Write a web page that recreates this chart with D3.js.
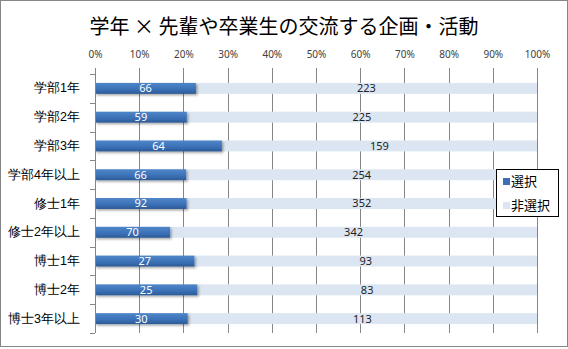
<!DOCTYPE html>
<html><head><meta charset="utf-8">
<script src="https://cdn.jsdelivr.net/npm/d3@7"></script>
<style>
html,body{margin:0;padding:0;background:#fff;}
svg{display:block;font-family:"Noto Sans CJK JP","Noto Sans",sans-serif;}
</style></head>
<body>
<svg id="chart" width="568" height="349"></svg>
<script>
const title = "学年 × 先輩や卒業生の交流する企画・活動";
const categories = ["学部1年","学部2年","学部3年","学部4年以上","修士1年","修士2年以上","博士1年","博士2年","博士3年以上"];
const selected = [66,59,64,66,92,70,27,25,30];
const notSelected = [223,225,159,254,352,342,93,83,113];
const seriesNames = ["選択","非選択"];
const tickValues = [0,0.1,0.2,0.3,0.4,0.5,0.6,0.7,0.8,0.9,1];

const svg = d3.select("#chart");
const W = 568, H = 349;
const m = {left:95, right:31, top:74, bottom:16};

// border
svg.append("rect").attr("x",0.5).attr("y",0.5).attr("width",W-1).attr("height",H-3)
  .attr("fill","#fff").attr("stroke","#868686").attr("stroke-width",1);

const defs = svg.append("defs");
const grad = defs.append("linearGradient").attr("id","blueGrad").attr("x1",0).attr("y1",0).attr("x2",0).attr("y2",1);
grad.append("stop").attr("offset","0%").attr("stop-color","#4f86c9");
grad.append("stop").attr("offset","60%").attr("stop-color","#3b70b6");
grad.append("stop").attr("offset","100%").attr("stop-color","#2c5a96");
const f = defs.append("filter").attr("id","shadow").attr("x","-10%").attr("y","-30%").attr("width","130%").attr("height","190%");
f.append("feDropShadow").attr("dx",1.5).attr("dy",1.5).attr("stdDeviation",1).attr("flood-color","#000").attr("flood-opacity",0.35);

const data = categories.map((c,i)=>({cat:c, "選択":selected[i], "非選択":notSelected[i]}));
const stack = d3.stack().keys(seriesNames).offset(d3.stackOffsetExpand);
const series = stack(data);

const x = d3.scaleLinear().domain([0,1]).range([m.left, W - m.right]);
const y = d3.scaleBand().domain(categories).range([m.top, H - m.bottom - 0]).paddingInner(0.62).paddingOuter(0.31);
const yb = d3.scaleBand().domain(categories).range([m.top, H - m.bottom]);

// title
svg.append("text").attr("x",284).attr("y",34).attr("text-anchor","middle")
  .attr("font-size",20).attr("fill","#000").text(title);

// vertical gridlines (with outward top ticks)
svg.append("g").selectAll("line").data(tickValues).join("line")
  .attr("x1",d=>Math.round(x(d))+0.5).attr("x2",d=>Math.round(x(d))+0.5)
  .attr("y1",m.top-6).attr("y2",H-m.bottom)
  .attr("stroke","#868686").attr("stroke-width",1);

// top axis labels
const xAxis = d3.axisTop(x).tickValues(tickValues).tickFormat(d3.format(".0%")).tickSize(0).tickPadding(0);
const gx = svg.append("g").attr("transform",`translate(0,${m.top-16})`).call(xAxis);
gx.select(".domain").remove();
gx.selectAll("text").attr("font-size",10).attr("fill","#404040").attr("font-family","\"Noto Sans\",sans-serif");

// bars
const colors = {"選択":"url(#blueGrad)","非選択":"#dce6f2"};
const order = [1,0];
order.forEach(si=>{
  const s = series[si];
  svg.append("g").selectAll("rect").data(s).join("rect")
    .attr("x",d=>x(d[0])).attr("width",d=>x(d[1])-x(d[0]))
    .attr("y",d=>y(d.data.cat)).attr("height",y.bandwidth())
    .attr("fill",colors[s.key])
    .attr("filter", s.key==="選択" ? "url(#shadow)" : null);
});

// data labels
series.forEach(s=>{
  svg.append("g").selectAll("text").data(s).join("text")
    .attr("x",d=>(x(d[0])+x(d[1]))/2)
    .attr("y",d=>y(d.data.cat)+y.bandwidth()/2)
    .attr("dy","0.36em").attr("text-anchor","middle")
    .attr("font-size",11).attr("font-family","\"Noto Sans\",sans-serif")
    .attr("fill", s.key==="選択" ? "#fff" : "#222")
    .text(d=>d.data[s.key]);
});

// left axis
const yAxis = d3.axisLeft(yb).tickSize(0).tickPadding(15);
const gy = svg.append("g").attr("transform",`translate(${m.left},0)`).call(yAxis);
gy.select(".domain").remove();
gy.selectAll("text").attr("font-size",12.5).attr("fill","#000");
svg.append("line").attr("x1",m.left+0.5).attr("x2",m.left+0.5).attr("y1",m.top-6).attr("y2",H-m.bottom).attr("stroke","#868686");
const bounds = categories.map(c=>yb(c)).concat([H-m.bottom]);
svg.append("g").selectAll("line").data(bounds).join("line")
  .attr("x1",m.left-5).attr("x2",m.left).attr("y1",d=>Math.round(d)+0.5).attr("y2",d=>Math.round(d)+0.5)
  .attr("stroke","#868686");

// legend
const lg = svg.append("g");
lg.append("rect").attr("x",496.5).attr("y",169.5).attr("width",62).attr("height",47)
  .attr("fill","#fff").attr("stroke","#000").attr("stroke-width",1);
const lcol = ["#3b70b6","#dce6f2"];
seriesNames.forEach((n,i)=>{
  lg.append("rect").attr("x",503).attr("y",178+i*24).attr("width",7).attr("height",7).attr("fill",lcol[i]);
  lg.append("text").attr("x",511).attr("y",181.5+i*24).attr("dy","0.36em").attr("font-size",13).attr("fill","#000").text(n);
});
</script>
</body></html>
